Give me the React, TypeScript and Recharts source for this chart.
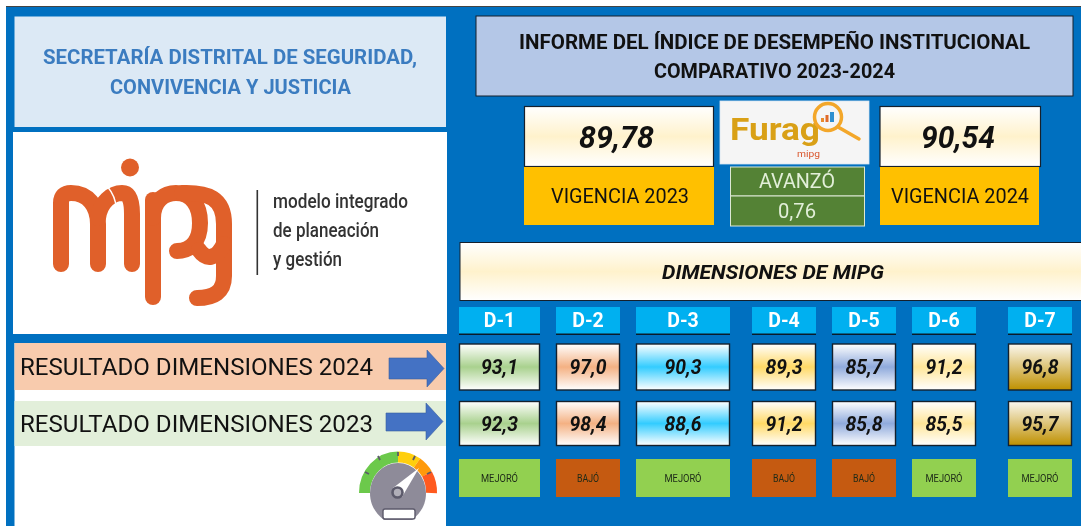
import { ScatterChart, Scatter, XAxis, YAxis } from 'recharts'

// datos
const dimensions = ['D-1', 'D-2', 'D-3', 'D-4', 'D-5', 'D-6', 'D-7']
const results2024 = [93.1, 97.0, 90.3, 89.3, 85.7, 91.2, 96.8]
const results2023 = [92.3, 98.4, 88.6, 91.2, 85.8, 85.5, 95.7]
const statusLabels = ['MEJORÓ', 'BAJÓ', 'MEJORÓ', 'BAJÓ', 'BAJÓ', 'MEJORÓ', 'MEJORÓ']
const rows = ['Dimensión', '2024', '2023', 'Estado']
const index2023 = '89,78'
const index2024 = '90,54'
const advanceLabel = 'AVANZÓ'
const advanceValue = '0,76'

// disposición de la hoja: las columnas no tienen el mismo ancho
const columnCenters = [499.5, 588, 683, 784, 864, 944, 1040]
const columnWidths = [81, 64, 94, 64, 64, 64, 64]
const rowCenters = [321, 367, 423.5, 478]
const rowHeights = [28, 47, 45, 38]
const valueFills = ['url(#d1)', 'url(#d2)', 'url(#d3)', 'url(#d4)', 'url(#d5)', 'url(#d6)', 'url(#d7)']
const statusFills: Record<string, string> = { 'MEJORÓ': '#92D050', 'BAJÓ': '#C55A11' }
const statusTextWidths: Record<string, number> = { 'MEJORÓ': 37, 'BAJÓ': 22 }

// escala de categorías con posiciones fijas, como las celdas de la hoja original
function slotScale(values: string[], positions: number[]) {
  const s: any = (v: string) => {
    const i = values.indexOf(v)
    return i < 0 ? undefined : positions[i]
  }
  s.domain = (d?: string[]) => (d === undefined ? values : s)
  s.range = (r?: number[]) => (r === undefined ? [Math.min(...positions), Math.max(...positions)] : s)
  s.copy = () => s
  s.ticks = () => values
  return s
}

const headerPoints = dimensions.map(dim => ({ dim, row: rows[0] }))
const points2024 = dimensions.map((dim, i) => ({ dim, row: rows[1], value: results2024[i] }))
const points2023 = dimensions.map((dim, i) => ({ dim, row: rows[2], value: results2023[i] }))
const statusPoints = dimensions.map((dim, i) => ({ dim, row: rows[3], status: statusLabels[i] }))

const SANS = 'Roboto, "Liberation Sans", sans-serif'

function Label({ x, y, w, size, fill = '#111', weight = 400, italic = false, children }: any) {
  return (
    <text
      x={x}
      y={y}
      dy="0.35em"
      textLength={w}
      lengthAdjust="spacingAndGlyphs"
      fontFamily={SANS}
      fontSize={size}
      fontWeight={weight}
      fontStyle={italic ? 'italic' : 'normal'}
      fill={fill}
    >
      {children}
    </text>
  )
}

function box(payload: any, cx: number, cy: number) {
  const i = dimensions.indexOf(payload.dim)
  const r = rows.indexOf(payload.row)
  const w = columnWidths[i]
  const h = rowHeights[r]
  return { i, w, h, x: cx - w / 2, y: cy - h / 2 }
}

function HeaderCell({ cx, cy, payload }: any) {
  const { w, h, x, y } = box(payload, cx, cy)
  return (
    <g>
      <rect x={x} y={y} width={w} height={h} fill="#00B0F0" />
      <rect x={x} y={y + h - 1.5} width={w} height={1.5} fill="#0B1B2B" />
      <text x={cx} y={cy - 1} dy="0.35em" textAnchor="middle" fontFamily={SANS} fontSize={19.5} fontWeight={700} fill="#fff">
        {payload.dim}
      </text>
    </g>
  )
}

function ValueCell({ cx, cy, payload }: any) {
  const { i, w, h, x, y } = box(payload, cx, cy)
  return (
    <g>
      <rect x={x + 0.5} y={y + 0.5} width={w - 1} height={h - 1} fill={valueFills[i]} stroke="#14202C" strokeWidth={1.4} />
      <text
        x={cx - 18.5}
        y={cy}
        dy="0.35em"
        textLength={37}
        lengthAdjust="spacingAndGlyphs"
        fontFamily={SANS}
        fontSize={21}
        fontWeight={700}
        fontStyle="italic"
        fill="#111"
      >
        {payload.value.toFixed(1).replace('.', ',')}
      </text>
    </g>
  )
}

function StatusCell({ cx, cy, payload }: any) {
  const { w, h, x, y } = box(payload, cx, cy)
  const tw = statusTextWidths[payload.status]
  return (
    <g>
      <rect x={x} y={y} width={w} height={h} fill={statusFills[payload.status]} />
      <text x={cx - tw / 2} y={cy} dy="0.35em" textLength={tw} lengthAdjust="spacingAndGlyphs" fontFamily={SANS} fontSize={10} fill="#1d2a18">
        {payload.status}
      </text>
    </g>
  )
}

function Gradient({ id, color }: { id: string; color: string }) {
  return (
    <linearGradient id={id} x1="0" y1="0" x2="0" y2="1">
      <stop offset="0" stopColor="#fff" />
      <stop offset="0.5" stopColor={color} />
      <stop offset="1" stopColor="#fff" />
    </linearGradient>
  )
}

function Backdrop() {
  const orange = '#E0602A'
  return (
    <svg width={1081} height={526} style={{ position: 'absolute', left: 0, top: 0 }}>
      <defs>
        <Gradient id="d1" color="#A9D18E" />
        <Gradient id="d2" color="#F4B183" />
        <Gradient id="d3" color="#33CCFF" />
        <Gradient id="d4" color="#FFD966" />
        <Gradient id="d5" color="#8FAADC" />
        <Gradient id="d6" color="#FFE699" />
        <linearGradient id="d7" x1="0" y1="0" x2="0" y2="1">
          <stop offset="0" stopColor="#FBF8F0" />
          <stop offset="1" stopColor="#BF9000" />
        </linearGradient>
        <Gradient id="cream" color="#FFF2CC" />
      </defs>

      <rect width={1081} height={526} fill="#fff" />
      <rect x={6} y={6.5} width={1075} height={520} fill="#0070C0" />
      <rect x={6} y={6} width={1075} height={1} fill="#444" />

      {/* panel izquierdo */}
      <rect x={14.5} y={16.5} width={431.5} height={110.5} fill="#DCE9F5" />
      <Label x={43} y={57} w={374} size={20.5} weight={700} fill="#3B7CC0">SECRETARÍA DISTRITAL DE SEGURIDAD,</Label>
      <Label x={110} y={87} w={241} size={20.5} weight={700} fill="#3B7CC0">CONVIVENCIA Y JUSTICIA</Label>
      <rect x={13} y={132} width={434} height={202} fill="#fff" />

      <g fill="none" stroke={orange} strokeWidth={16} strokeLinecap="round">
        <path d="M61 264 V203 Q61 193 71 193 C88 193 98 206 98 224 V264" />
        <path d="M98 218 C100 202 112 193 122 193 C130 193 132 202 132 214 V264" />
        <path d="M153 297 V200" />
        <path d="M153 218 C153 200 165 193 176 193 C192 193 200 206 200 223 C200 242 190 251 177 251" />
        <path d="M182 193 C208 192 224 198 224 224 V276 C224 292 214 298 197 298" />
        <path d="M224 244 C216 260 206 260 199 250" />
      </g>
      <circle cx={130} cy={167.5} r={9} fill={orange} />
      <path d="M107 186 C112 192 116 200 116 208" stroke="#fff" strokeWidth={1.4} fill="none" />
      <rect x={256.5} y={190} width={1.6} height={85} fill="#333" />
      <Label x={273} y={201} w={135} size={21} weight={500} fill="#333">modelo integrado</Label>
      <Label x={273} y={230} w={106} size={21} weight={500} fill="#333">de planeación</Label>
      <Label x={273} y={259} w={69} size={21} weight={500} fill="#333">y gestión</Label>

      <rect x={14.5} y={343} width={431.5} height={183} fill="#fff" />
      <rect x={14.5} y={343} width={431.5} height={47} fill="#F8CBAD" />
      <rect x={14.5} y={401} width={431.5} height={45} fill="#E2EFDA" />
      <Label x={20} y={367} w={353} size={23}>RESULTADO DIMENSIONES 2024</Label>
      <Label x={20} y={423.5} w={353} size={23}>RESULTADO DIMENSIONES 2023</Label>
      <path d="M389 358 H427 V350 L444 368.5 L427 387 V379 H389 Z" fill="#4472C4" stroke="#3A5F9F" strokeWidth={0.6} />
      <path d="M386 413 H426 V403 L443 421.5 L426 440 V431 H386 Z" fill="#4472C4" stroke="#3A5F9F" strokeWidth={0.6} />

      {/* indicador */}
      <g fill="none" strokeWidth={11}>
        <path d="M364.5 493 A33.5 36 0 0 1 398 457" stroke="#6CC94B" />
        <path d="M398 457 A33.5 36 0 0 1 417 463" stroke="#FFCF0D" />
        <path d="M417 463 A33.5 36 0 0 1 427 474" stroke="#FF9A0B" />
        <path d="M427 474 A33.5 36 0 0 1 431.5 493" stroke="#FF5A1F" />
      </g>
      <path d="M370 493 A28 30 0 0 1 426 493 C426 505 420 514 412 520 H384 C376 514 370 505 370 493 Z" fill="#8E8B99" />
      <g stroke="#5C5A6B" strokeWidth={1.8}>
        <path d="M398 452 V456" />
        <path d="M378 456 L380 460" />
        <path d="M365 472 L369 474" />
        <path d="M415 456 L413 460" />
        <path d="M431 472 L427 474" />
      </g>
      <path d="M393 488 L419 468 L402 497 Z" fill="#fff" />
      <circle cx={397.5} cy={492.5} r={5} fill="#B0AEB8" stroke="#5C5A6B" strokeWidth={2.6} />
      <rect x={383} y={509} width={32} height={10} rx={2} fill="#fff" stroke="#5C5A6B" strokeWidth={1.4} />

      {/* encabezado derecho */}
      <rect x={476} y={16} width={597} height={80} fill="#B4C7E7" stroke="#16202C" strokeWidth={1} />
      <Label x={519} y={42} w={511} size={20.5} weight={700}>INFORME DEL ÍNDICE DE DESEMPEÑO INSTITUCIONAL</Label>
      <Label x={654} y={71} w={241} size={20.5} weight={700}>COMPARATIVO 2023-2024</Label>

      <rect x={524.5} y={106.5} width={189} height={60} fill="url(#cream)" stroke="#16202C" strokeWidth={1.2} />
      <Label x={579} y={137} w={75} size={32} weight={700} italic>{index2023}</Label>
      <rect x={880} y={106.5} width={160.5} height={60} fill="url(#cream)" stroke="#16202C" strokeWidth={1.2} />
      <Label x={921} y={137} w={74} size={32} weight={700} italic>{index2024}</Label>
      <rect x={524} y={167} width={190} height={58} fill="#FFC000" />
      <Label x={551} y={196} w={138} size={21}>VIGENCIA 2023</Label>
      <rect x={880} y={167} width={159} height={58} fill="#FFC000" />
      <Label x={891} y={196} w={138} size={21}>VIGENCIA 2024</Label>

      {/* logo Furag */}
      <rect x={720} y={101} width={149} height={63} fill="#F5F5F5" stroke="#D8E6F2" strokeWidth={0.8} />
      <Label x={730} y={129} w={90} size={31} weight={700} fill="#D9A016">Furag</Label>
      <circle cx={828} cy={117} r={13.5} fill="none" stroke="#F3A72A" strokeWidth={3.5} />
      <path d="M838 127 L859 139" stroke="#F3A72A" strokeWidth={3.5} strokeLinecap="round" />
      <rect x={821} y={118} width={3} height={4} fill="#E98A2B" />
      <rect x={825.5} y={115} width={3} height={7} fill="#E06A2A" />
      <rect x={830} y={112} width={4} height={10} fill="#2E8FD0" />
      <Label x={797} y={154} w={23} size={9} fill="#D9552B">mipg</Label>

      <rect x={730.5} y={167} width={134} height={29} fill="#548235" stroke="#DCE8D4" strokeWidth={1} />
      <rect x={730.5} y={196} width={134} height={30} fill="#548235" stroke="#DCE8D4" strokeWidth={1} />
      <Label x={759} y={181} w={76} size={20} fill="#E2EFD9">{advanceLabel}</Label>
      <Label x={778} y={211} w={38} size={20} fill="#E2EFD9">{advanceValue}</Label>

      <rect x={460} y={242.5} width={622} height={58} fill="url(#cream)" stroke="#16202C" strokeWidth={1} />
      <Label x={662} y={272} w={222} size={20} weight={700} italic>DIMENSIONES DE MIPG</Label>
    </svg>
  )
}

export default function App() {
  return (
    <div style={{ position: 'absolute', left: 0, top: 0, width: 1081, height: 526, overflow: 'hidden', filter: 'blur(0.35px)' }}>
      <Backdrop />
      <div style={{ position: 'absolute', left: 0, top: 0 }}>
        <ScatterChart width={1081} height={526} margin={{ top: 0, right: 0, bottom: 0, left: 0 }}>
          <XAxis
            type="category"
            dataKey="dim"
            hide
            allowDuplicatedCategory={false}
            domain={dimensions}
            scale={slotScale(dimensions, columnCenters)}
          />
          <YAxis
            type="category"
            dataKey="row"
            hide
            allowDuplicatedCategory={false}
            domain={rows}
            scale={slotScale(rows, rowCenters)}
          />
          <Scatter data={headerPoints} shape={HeaderCell} isAnimationActive={false} />
          <Scatter data={points2024} shape={ValueCell} isAnimationActive={false} />
          <Scatter data={points2023} shape={ValueCell} isAnimationActive={false} />
          <Scatter data={statusPoints} shape={StatusCell} isAnimationActive={false} />
        </ScatterChart>
      </div>
    </div>
  )
}
